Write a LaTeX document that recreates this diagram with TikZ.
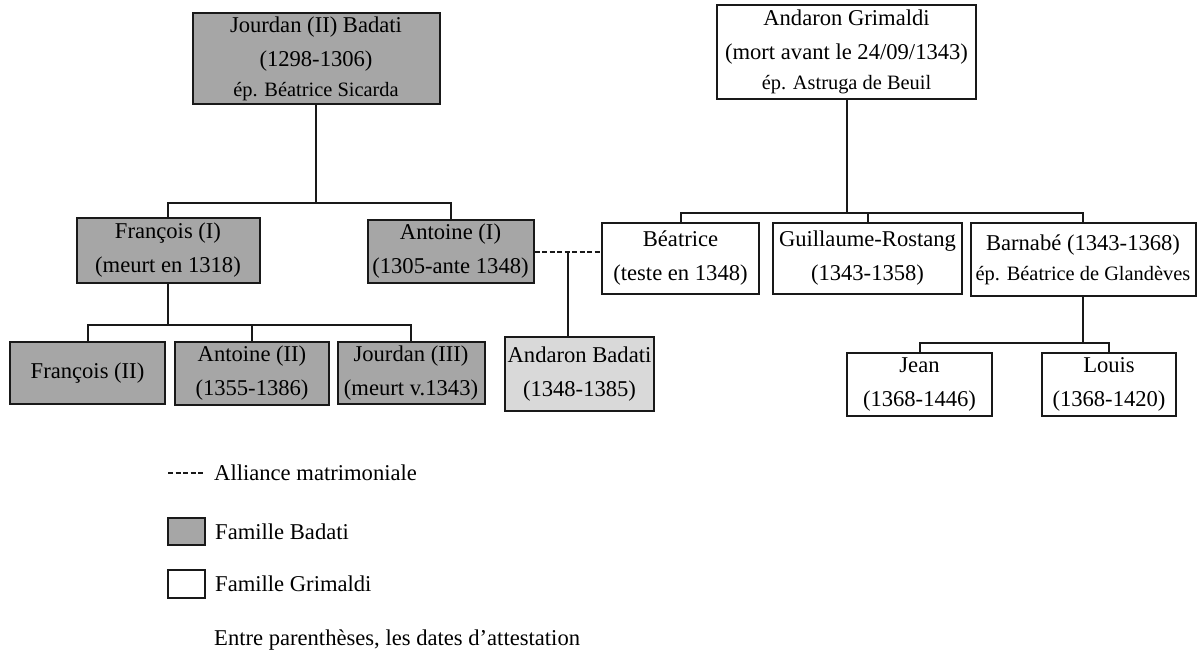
\documentclass[tikz,border=0pt]{standalone}
\usepackage{fontspec}
\setmainfont{Liberation Serif}
\usepackage{tikz}
\usetikzlibrary{calc,positioning}
\definecolor{badatigray}{RGB}{166,166,166}
\definecolor{lightgray}{RGB}{217,217,217}
\definecolor{boxline}{RGB}{25,25,25}
\tikzset{
	person/.style = {rectangle, draw=boxline, line width=2pt, align=center, inner sep=0pt,
	 font=\fontsize{22.6}{34}\selectfont},
	badati/.style = {person, fill=badatigray},
	badatilight/.style = {person, fill=lightgray},
	grimaldi/.style = {person, fill=white},
	link/.style = {line width=2pt, draw=boxline},
	alliance/.style = {link, dash pattern=on 5pt off 2.5pt},
	legendtext/.style = {inner sep=0pt, font=\fontsize{22.6}{34}\selectfont},
}
\newcommand{\epline}[1]{{\fontsize{20.4}{30}\selectfont #1}}

\begin{document}
\begin{tikzpicture}[x=1pt,y=-1pt]
    \useasboundingbox (0,0) rectangle (1197,651);
    % Badati
    \node[badati, minimum width=247, minimum height=91] (jourdan2) at (316,58.5)
    {Jourdan (II) Badati\\(1298-1306)\\[-4pt]\epline{ép. Béatrice Sicarda}};
    \node[badati, minimum width=183, minimum height=65] (francois1) at (168,250.5) {François (I)\\(meurt en 1318)};
    \node[badati, minimum width=166, minimum height=63] (antoine1) at (450.5,251.5) {Antoine (I)\\(1305-ante 1348)};
    \node[badati, minimum width=155, minimum height=62] (francois2) at (87.5,373) {François (II)};
    \node[badati, minimum width=154, minimum height=63] (antoine2) at (252,373.5) {Antoine (II)\\(1355-1386)};
    \node[badati, minimum width=147, minimum height=62] (jourdan3) at (411,373) {Jourdan (III)\\(meurt v.1343)};
    \node[badatilight, minimum width=149, minimum height=74] (andaronB) at (579.5,374) {Andaron Badati\\(1348-1385)};
    % Grimaldi
    \node[grimaldi, minimum width=259, minimum height=94] (andaronG) at (846.5,52)
    {Andaron Grimaldi\\(mort avant le 24/09/1343)\\[-4pt]\epline{ép. Astruga de Beuil}};
    \node[grimaldi, minimum width=157, minimum height=71] (beatrice) at (680.5,258.5) {Béatrice\\(teste en 1348)};
    \node[grimaldi, minimum width=189, minimum height=71] (guillaume) at (867.5,258.5) {Guillaume-Rostang\\(1343-1358)};
    \node[grimaldi, minimum width=225, minimum height=73] (barnabe) at (1083,259.5)
    {Barnabé (1343-1368)\\[-4pt]\epline{ép. Béatrice de Glandèves}};
    \node[grimaldi, minimum width=145, minimum height=63] (jean) at (919.5,384.5) {Jean\\(1368-1446)};
    \node[grimaldi, minimum width=134, minimum height=63] (louis) at (1109,384.5) {Louis\\(1368-1420)};

    \coordinate (jBar) at (316,203);
    \coordinate (fBar) at (168,325);
    \coordinate (gBar) at (846.5,213);
    \coordinate (bBar) at (1083,343);
    \coordinate (aMid) at (568,251.5);

    \draw[link] (jourdan2) -- (jBar);
    \draw[link] (francois1) |- (jBar) -| (antoine1);
    \draw[link] (francois1) -- (fBar);
    \draw[link] (francois2) |- (fBar) -| (jourdan3);
    \draw[link] (antoine2) -- (antoine2 |- fBar);
    \draw[link] (andaronG) -- (gBar);
    \draw[link] (beatrice) |- (gBar) -| (barnabe);
    \draw[link] (guillaume) -- (guillaume |- gBar);
    \draw[link] (barnabe) -- (bBar);
    \draw[link] (jean) |- (bBar) -| (louis);
    \draw[alliance] (antoine1.east) -- (antoine1.east -| beatrice.west);
    \draw[link] (aMid) -- (aMid |- andaronB.north);

    % legende
    \coordinate (legA) at (168,473);
    \coordinate (legB) at (203,473);
    \draw[alliance] (legA) -- (legB);
    \node[legendtext, right=11pt of legB] (legAlliance) {Alliance matrimoniale};
    \node[badati, minimum width=37, minimum height=27] (keyBadati) at (186.5,531.5) {};
    \node[legendtext, right=9pt of keyBadati] (legBadati) {Famille Badati};
    \node[grimaldi, minimum width=37, minimum height=28] (keyGrimaldi) at (186.5,584) {};
    \node[legendtext, right=9pt of keyGrimaldi] (legGrimaldi) {Famille Grimaldi};
    \node[legendtext, anchor=west] (legNote) at (214,640) {Entre parenthèses, les dates d’attestation};
\end{tikzpicture}
\end{document}
